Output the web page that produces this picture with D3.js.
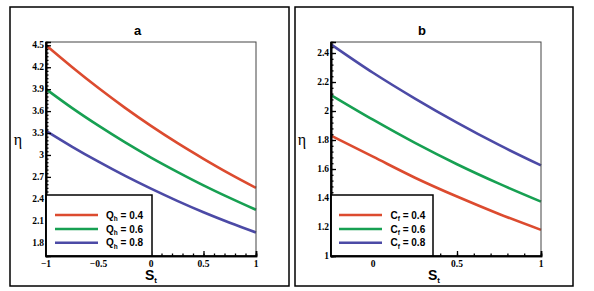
<!DOCTYPE html>
<html><head><meta charset="utf-8">
<script src="https://cdn.jsdelivr.net/npm/d3@7/dist/d3.min.js"></script>
<style>body{margin:0;background:#fff}</style>
</head><body>
<svg id="c" width="594" height="291"></svg>
<script>
// Panel a data
const xA = [-1, -0.75, -0.5, -0.25, 0, 0.25, 0.5, 0.75, 1];
const aQ04 = [4.50, 4.200, 3.915, 3.648, 3.398, 3.165, 2.948, 2.742, 2.55];
const aQ06 = [3.90, 3.640, 3.400, 3.175, 2.965, 2.770, 2.585, 2.413, 2.25];
const aQ08 = [3.33, 3.112, 2.908, 2.717, 2.539, 2.372, 2.216, 2.073, 1.94];
const aYTicks = [1.8, 2.1, 2.4, 2.7, 3, 3.3, 3.6, 3.9, 4.2, 4.5];
const aXTicks = [-1, -0.5, 0, 0.5, 1];
const aLabels = ["0.4", "0.6", "0.8"];
// Panel b data
const xB = [-0.25, 0, 0.25, 0.5, 0.75, 1];
const bC04 = [1.83, 1.685, 1.540, 1.410, 1.290, 1.18];
const bC06 = [2.11, 1.940, 1.780, 1.633, 1.499, 1.375];
const bC08 = [2.46, 2.264, 2.086, 1.920, 1.766, 1.625];
const bYTicks = [1, 1.2, 1.4, 1.6, 1.8, 2, 2.2, 2.4];
const bXTicks = [0, 0.5, 1];
const bLabels = ["0.4", "0.6", "0.8"];

const colors = ["#dc4b2f", "#17a052", "#4c4aa6"];
const svg = d3.select("#c");

function panel(o) {
  const g = svg.append("g");
  // outer frame
  g.append("rect").attr("x", o.box[0]).attr("y", o.box[1])
    .attr("width", o.box[2] - o.box[0]).attr("height", o.box[3] - o.box[1])
    .attr("fill", "none").attr("stroke", "#000").attr("stroke-width", 1.5);
  const x = d3.scaleLinear().domain(o.xd).range([o.pl, o.pr]);
  const y = d3.scaleLinear().domain(o.yd).range([o.pb, o.pt]);
  // curves
  const line = d3.line().x((d, i) => x(o.xs[i])).y(d => y(d)).curve(d3.curveMonotoneX);
  o.series.forEach((s, i) => {
    g.append("path").attr("d", line(s)).attr("fill", "none")
      .attr("stroke", colors[i]).attr("stroke-width", 2.6);
  });
  // plot frame
  g.append("rect").attr("x", o.pl).attr("y", o.pt).attr("width", o.pr - o.pl)
    .attr("height", o.pb - o.pt).attr("fill", "none").attr("stroke", "#444").attr("stroke-width", 1);
  // axes with inward ticks
  const yMinor = d3.range(Math.ceil(o.yd[0] / o.ym - 1e-6), Math.floor(o.yd[1] / o.ym + 1e-6) + 1).map(k => +(k * o.ym).toFixed(4));
  const xMinor = d3.range(Math.ceil(o.xd[0] / o.xm - 1e-6), Math.floor(o.xd[1] / o.xm + 1e-6) + 1).map(k => +(k * o.xm).toFixed(4));
  const ay = g.append("g").attr("transform", `translate(${o.pl},0)`);
  ay.call(d3.axisRight(y).tickValues(yMinor).tickSize(2.5).tickFormat(""));
  ay.append("g").call(d3.axisRight(y).tickValues(o.yt).tickSize(5).tickFormat(""));
  ay.selectAll("path.domain").attr("stroke", "#000").attr("stroke-width", 1.6);
  ay.selectAll("line").attr("stroke", "#000").attr("stroke-width", 1.3);
  o.yt.forEach(v => {
    g.append("text").attr("x", o.pl - 2).attr("y", y(v) + 3.2).attr("text-anchor", "end")
      .attr("font-family", "Liberation Serif").attr("font-weight", "bold").attr("font-size", 9.5)
      .text(d3.format("")(v));
  });
  const ax = g.append("g").attr("transform", `translate(0,${o.pb})`);
  ax.call(d3.axisTop(x).tickValues(xMinor).tickSize(2.5).tickFormat(""));
  ax.append("g").call(d3.axisTop(x).tickValues(o.xt).tickSize(5).tickFormat(""));
  ax.selectAll("path.domain").attr("stroke", "#000").attr("stroke-width", 1.6);
  ax.selectAll("line").attr("stroke", "#000").attr("stroke-width", 1.3);
  o.xt.forEach(v => {
    g.append("text").attr("x", x(v)).attr("y", o.pb + 10.5).attr("text-anchor", "middle")
      .attr("font-family", "Liberation Serif").attr("font-weight", "bold").attr("font-size", 9.5)
      .text(d3.format("")(v));
  });
  // legend
  g.append("rect").attr("x", o.pl).attr("y", o.leg.top).attr("width", o.leg.right - o.pl)
    .attr("height", o.pb - o.leg.top).attr("fill", "#fff").attr("stroke", "#000").attr("stroke-width", 1.5);
  o.labels.forEach((l, i) => {
    const yy = o.leg.ys[i];
    g.append("line").attr("x1", o.leg.l1).attr("x2", o.leg.l2).attr("y1", yy).attr("y2", yy)
      .attr("stroke", colors[i]).attr("stroke-width", 2.6);
    const t = g.append("text").attr("x", o.leg.tx).attr("y", yy + 3.5)
      .attr("font-family", "Liberation Sans").attr("font-weight", "bold").attr("font-size", 10);
    t.append("tspan").text(o.sym);
    t.append("tspan").attr("font-size", 6.5).attr("dy", 2.5).text(o.sub);
    t.append("tspan").attr("dy", -2.5).text(" = " + l);
  });
  // redraw frame over legend edges
  g.append("line").attr("x1", o.pl).attr("x2", o.pl).attr("y1", o.pt).attr("y2", o.pb).attr("stroke", "#000").attr("stroke-width", 1.6);
  g.append("line").attr("x1", o.pl).attr("x2", o.pr).attr("y1", o.pb).attr("y2", o.pb).attr("stroke", "#000").attr("stroke-width", 1.6);
  // title
  g.append("text").attr("x", o.title[0]).attr("y", o.title[1]).attr("text-anchor", "middle")
    .attr("font-family", "Liberation Sans").attr("font-weight", "bold").attr("font-size", 13).text(o.name);
  // x title
  const xt = g.append("text").attr("x", o.xtitle[0]).attr("y", o.xtitle[1]).attr("text-anchor", "middle")
    .attr("font-family", "Liberation Sans").attr("font-weight", "bold").attr("font-size", 14);
  xt.append("tspan").text("S");
  xt.append("tspan").attr("font-size", 8).attr("dy", 3).text("t");
  // y title
  g.append("text").attr("x", o.ytitle[0]).attr("y", o.ytitle[1]).attr("text-anchor", "middle")
    .attr("font-family", "Liberation Serif").attr("font-size", 16).text("η");
}

panel({
  box: [10, 7, 289, 286], pl: 46, pr: 256, pt: 42, pb: 256,
  xd: [-1, 1], yd: [1.618, 4.545], xs: xA, series: [aQ04, aQ06, aQ08],
  yt: aYTicks, xt: aXTicks, ym: 0.05, xm: 0.1,
  labels: aLabels, sym: "Q", sub: "h",
  leg: { top: 195, right: 152, ys: [215, 229, 242.7], l1: 55, l2: 98, tx: 106 },
  title: [137.5, 35], name: "a", xtitle: [151, 280], ytitle: [18, 145]
});
panel({
  box: [295, 7, 573, 286], pl: 331, pr: 541, pt: 42, pb: 256,
  xd: [-0.25, 1], yd: [1, 2.476], xs: xB, series: [bC04, bC06, bC08],
  yt: bYTicks, xt: bXTicks, ym: 0.04, xm: 0.1,
  labels: bLabels, sym: "C", sub: "f",
  leg: { top: 195, right: 433, ys: [215, 229, 242.7], l1: 339, l2: 382, tx: 390.5 },
  title: [422, 35], name: "b", xtitle: [434, 280], ytitle: [302, 145]
});
</script>
</body></html>
